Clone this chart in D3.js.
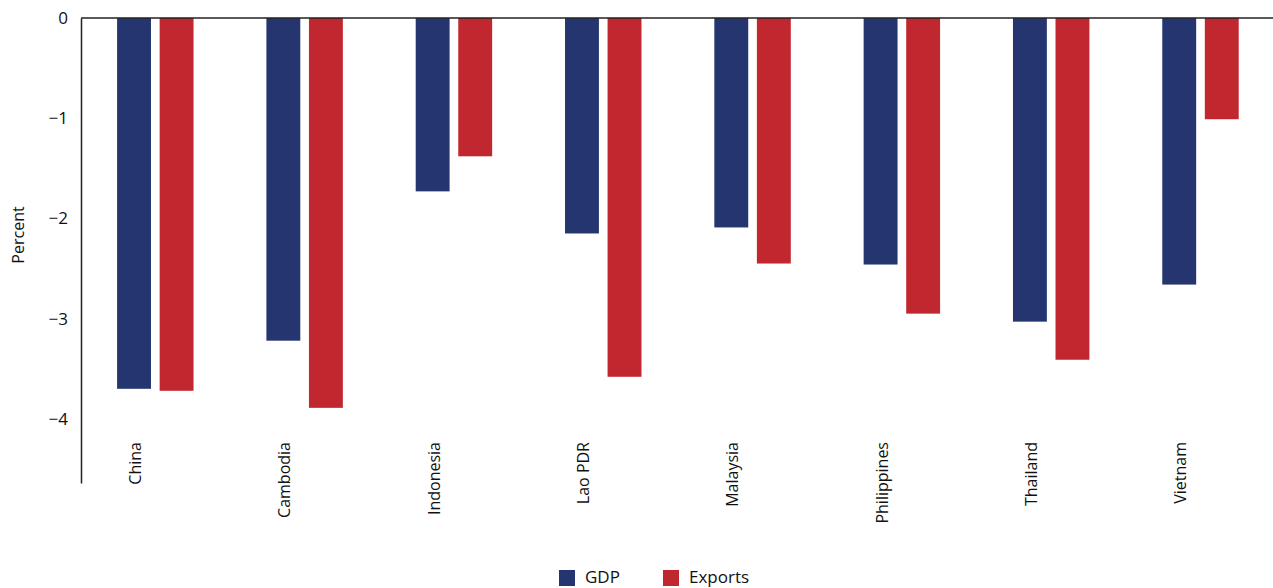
<!DOCTYPE html>
<html>
<head>
<meta charset="utf-8">
<script src="https://cdn.jsdelivr.net/npm/d3@7"></script>
<style>
  body { margin: 0; background: #fff; }
  text { font-family: "Open Sans", "DejaVu Sans", sans-serif; fill: #111; }
</style>
</head>
<body>
<div id="chart"></div>
<script>
var categories = ["China", "Cambodia", "Indonesia", "Lao PDR", "Malaysia", "Philippines", "Thailand", "Vietnam"];
var gdpValues = [-3.70, -3.22, -1.73, -2.15, -2.09, -2.46, -3.03, -2.66];
var exportValues = [-3.72, -3.89, -1.38, -3.58, -2.45, -2.95, -3.41, -1.01];
var yTicks = [0, -1, -2, -3, -4];
var seriesNames = ["GDP", "Exports"];
var colors = ["#25356f", "#c1272e"];

var svgWidth = 1273, svgHeight = 588;
var svg = d3.select("#chart").append("svg")
    .attr("width", svgWidth)
    .attr("height", svgHeight);

var xScale = d3.scaleBand().domain(categories).range([80.5, 1275]);
var yScale = d3.scaleLinear().domain([-4.64, 0]).range([483, 18]);
var band = xScale.bandwidth();
var barW = band * 0.227;

// bars
var series = [gdpValues, exportValues];
var offsets = [0.245, 0.53];
series.forEach(function(vals, s) {
    svg.append("g").selectAll("rect")
        .data(categories)
        .enter()
        .append("rect")
        .attr("x", (d) => xScale(d) + band * offsets[s])
        .attr("width", barW)
        .attr("y", yScale(0))
        .attr("height", (d, i) => yScale(vals[i]) - yScale(0))
        .attr("fill", colors[s]);
});

// zero line
svg.append("line")
    .attr("x1", 81).attr("x2", svgWidth)
    .attr("y1", yScale(0)).attr("y2", yScale(0))
    .attr("stroke", "#222").attr("stroke-width", 1.5);

// y axis
var leftAxis = d3.axisLeft(yScale).tickValues(yTicks).tickSize(0).tickPadding(13)
    .tickFormat((d) => d < 0 ? "\u2212" + Math.abs(d) : d);
var yAxis = svg.append("g").attr("transform", "translate(81,0)").call(leftAxis);
yAxis.select(".domain").attr("stroke", "#222").attr("stroke-width", 1.5);
yAxis.selectAll("text").style("font-size", "17px").attr("fill", "#111");

svg.append("text")
    .attr("transform", "translate(24,235) rotate(-90)")
    .attr("text-anchor", "middle")
    .style("font-size", "16px")
    .text("Percent");

// category labels
svg.append("g").selectAll("text")
    .data(categories)
    .enter()
    .append("text")
    .attr("transform", (d) => "translate(" + (xScale(d) + band * 0.366 + 6) + ",442) rotate(-90)")
    .attr("text-anchor", "end")
    .style("font-size", "16px")
    .text((d) => d);

// legend
var legendX = [559, 663];
var legend = svg.append("g");
seriesNames.forEach(function(name, i) {
    legend.append("rect")
        .attr("x", legendX[i]).attr("y", 570)
        .attr("width", 16).attr("height", 16)
        .attr("fill", colors[i]);
    legend.append("text")
        .attr("x", legendX[i] + 26).attr("y", 583)
        .style("font-size", "17px")
        .text(name);
});
</script>
</body>
</html>
